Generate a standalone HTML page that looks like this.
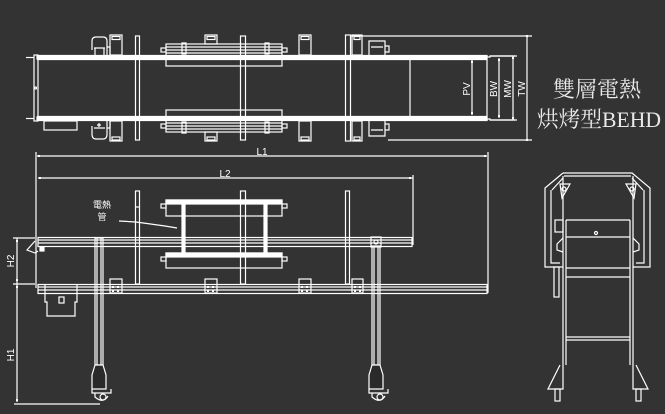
<!DOCTYPE html>
<html><head><meta charset="utf-8"><style>
html,body{margin:0;padding:0;background:#333333;}
svg{display:block}
</style></head><body>
<svg width="665" height="414" viewBox="0 0 665 414" xmlns="http://www.w3.org/2000/svg">
<rect width="665" height="414" fill="#333333"/>
<g stroke="#fff" stroke-width="1.2" fill="none">
<!-- ===== TOP VIEW ===== -->
<rect x="37" y="55.5" width="450" height="3.5" fill="#fff"/>
<rect x="37" y="117" width="450" height="3.5" fill="#fff"/>
<line x1="37" y1="59.5" x2="487" y2="59.5"/>
<line x1="37" y1="116.5" x2="487" y2="116.5"/>
<rect x="34" y="55" width="4" height="66"/>
<line x1="26" y1="57.5" x2="34" y2="57.5"/>
<line x1="26" y1="118.5" x2="34" y2="118.5"/>
<circle cx="35.5" cy="88" r="1"/>
<rect x="44" y="121" width="33" height="9"/>
<path d="M487 55.5 L487 121 M487 57 L490 57 L490 56 L515 56 M487 119 L490 119 L490 120 L515 120"/>
<path d="M92 50 L92 41 Q92 37 96 37 L103 37 Q107 37 107 41 L107 55 M94 48 L105 48 M95 48 L95 55 M104 48 L104 55 M107 47 L110 47 L110 55"/>
<path d="M92 126 L92 134 Q92 139 96 139 L103 139 Q107 139 107 134 L107 121 M94 128 L105 128 M99 123 L99 127 M97 125 L101 125 M107 128 L110 128 L110 121"/>
<rect x="110" y="35" width="12" height="20"/><rect x="112" y="36.5" width="8" height="3"/>
<rect x="110" y="121" width="12" height="20"/><rect x="112" y="137" width="8" height="3"/>
<rect x="205" y="35" width="12" height="9"/><rect x="207" y="36.5" width="8" height="3"/>
<rect x="205" y="132" width="12" height="9"/><rect x="207" y="137" width="8" height="3"/>
<rect x="299" y="35" width="12" height="20"/><rect x="301" y="36.5" width="8" height="3"/>
<rect x="299" y="121" width="12" height="20"/><rect x="301" y="137" width="8" height="3"/>
<rect x="352" y="35" width="10" height="20"/><rect x="354" y="36.5" width="6" height="3"/>
<rect x="352" y="121" width="10" height="20"/><rect x="354" y="137" width="6" height="3"/>
<path d="M369 55 L369 41 L385 41 L385 55 M371 47 L383 47 M385 46 L389 46 L389 52 L385 52"/>
<path d="M369 121 L369 136 L385 136 L385 121 M371 130 L383 130 M385 124 L389 124 L389 130 L385 130"/>
<rect x="135.5" y="36" width="4" height="104"/>
<rect x="240.5" y="36" width="5" height="104"/>
<rect x="345.5" y="35" width="5" height="106"/>
<rect x="166" y="44" width="116" height="22"/>
<line x1="166" y1="47" x2="282" y2="47"/>
<line x1="166" y1="50" x2="282" y2="50"/>
<line x1="166" y1="53" x2="282" y2="53"/>
<rect x="161" y="48" width="5" height="4"/><rect x="282" y="48" width="5" height="4"/>
<rect x="182" y="43" width="4" height="11"/><rect x="265" y="43" width="4" height="11"/>
<rect x="166" y="110" width="116" height="22"/>
<line x1="166" y1="123" x2="282" y2="123"/>
<line x1="166" y1="126" x2="282" y2="126"/>
<line x1="166" y1="129" x2="282" y2="129"/>
<rect x="161" y="124" width="5" height="4"/><rect x="282" y="124" width="5" height="4"/>
<rect x="182" y="122" width="4" height="11"/><rect x="265" y="122" width="4" height="11"/>
<line x1="160" y1="57.5" x2="166" y2="57.5"/><line x1="282" y1="57.5" x2="288" y2="57.5"/>
<line x1="410" y1="60" x2="410" y2="116"/>
<line x1="350" y1="36" x2="532" y2="36"/>
<line x1="388" y1="140" x2="532" y2="140"/>
<line x1="527" y1="36" x2="527" y2="140"/>
<line x1="513" y1="56" x2="513" y2="120"/>
<line x1="499" y1="58" x2="499" y2="118"/>
<line x1="472" y1="60" x2="472" y2="115"/>
<line x1="490" y1="56" x2="517" y2="56"/>
<line x1="490" y1="120" x2="517" y2="120"/>
</g>
<g fill="#fff">
<rect x="526" y="35" width="2" height="2"/><rect x="526" y="139" width="2" height="2"/>
<rect x="512" y="57" width="2" height="2"/><rect x="512" y="117" width="2" height="2"/>
<rect x="498" y="59" width="2" height="2"/><rect x="498" y="115" width="2" height="2"/>
<rect x="471" y="61" width="2" height="2"/><rect x="471" y="112" width="2" height="2"/>
</g>
<g fill="#fff" font-family="Liberation Sans, sans-serif" font-size="10">
<text transform="translate(470,89) rotate(-90)" text-anchor="middle">PV</text>
<text transform="translate(497,89) rotate(-90)" text-anchor="middle">BW</text>
<text transform="translate(511,89) rotate(-90)" text-anchor="middle">MW</text>
<text transform="translate(525,89) rotate(-90)" text-anchor="middle">TW</text>
</g>
<g fill="#e8e8e8" font-family="Liberation Serif, 'Noto Serif CJK TC', serif" font-size="22">
<text x="553" y="97">雙層電熱</text>
<text x="537" y="127" textLength="124" lengthAdjust="spacingAndGlyphs">烘烤型BEHD</text>
</g>

<!-- ===== SIDE VIEW ===== -->
<g stroke="#fff" stroke-width="1.2" fill="none">
<line x1="36" y1="152" x2="36" y2="288"/>
<line x1="488" y1="152" x2="488" y2="293"/>
<line x1="37" y1="156" x2="487" y2="156"/>
<line x1="413" y1="175" x2="413" y2="245"/>
<line x1="38" y1="178" x2="413" y2="178"/>
<rect x="38" y="237.5" width="374" height="9"/>
<line x1="38" y1="240" x2="412" y2="240"/>
<line x1="38" y1="243" x2="412" y2="243"/>
<rect x="38" y="284.5" width="449" height="9"/>
<line x1="38" y1="287" x2="487" y2="287"/>
<line x1="38" y1="290" x2="487" y2="290"/>
<rect x="135.5" y="191" width="4" height="93"/>
<rect x="240.5" y="191" width="5" height="93"/>
<rect x="345.5" y="191" width="4" height="93"/>
<line x1="135" y1="207" x2="140" y2="207"/>
<rect x="166" y="200" width="116" height="16"/>
<rect x="166" y="200" width="116" height="4" fill="#fff"/>
<rect x="161" y="204" width="5" height="4"/><rect x="282" y="204" width="5" height="4"/>
<rect x="166" y="253" width="116" height="15"/>
<rect x="166" y="253" width="116" height="4" fill="#fff"/>
<rect x="161" y="257" width="5" height="4"/><rect x="282" y="257" width="5" height="4"/>
<rect x="182" y="201" width="3" height="55" fill="#fff"/>
<rect x="264" y="201" width="3" height="55" fill="#fff"/>
<path d="M119 221 L136 222 L165 226 L177 228"/>
<path d="M35 241 L27 250 L35 253 L38 251"/>
<rect x="40" y="247" width="4" height="4" fill="#fff"/>
<path d="M45 285 L45 302 L47 302 L47 316 L75 316 L75 302 L77 302 L77 285"/>
<rect x="59" y="297" width="5" height="6"/>
<rect x="95" y="238" width="8" height="127"/>
<line x1="97" y1="238" x2="97" y2="365"/><line x1="101" y1="238" x2="101" y2="365"/>
<path d="M95 365 L92 375 L92 389 L106 389 L106 375 L103 365 Z" fill="#2a2a2a"/>
<path d="M92 389 L92 393 L111 393 L111 389 M95 393 L95 397 Q103 404 108 396"/>
<circle cx="103" cy="397" r="3"/>
<rect x="372" y="246" width="8" height="119"/>
<line x1="374" y1="246" x2="374" y2="365"/><line x1="378" y1="246" x2="378" y2="365"/>
<rect x="371" y="237" width="10" height="10"/>
<circle cx="376" cy="242" r="2"/>
<path d="M372 365 L369 375 L369 389 L383 389 L383 375 L380 365 Z" fill="#2a2a2a"/>
<path d="M369 389 L369 393 L388 393 L388 389 M372 393 L372 397 Q380 404 385 396"/>
<circle cx="380" cy="397" r="3"/>
<rect x="110" y="279" width="12" height="14"/>
<rect x="205" y="279" width="12" height="14"/>
<rect x="299" y="279" width="12" height="14"/>
<rect x="352" y="279" width="11" height="14"/>
<line x1="17" y1="238" x2="17" y2="402"/>
<line x1="13" y1="238" x2="35" y2="238"/>
<line x1="13" y1="284" x2="35" y2="284"/>
<line x1="14" y1="404" x2="100" y2="404"/>
</g>
<g fill="#fff">
<rect x="38" y="155" width="2" height="2"/><rect x="484" y="155" width="2" height="2"/>
<rect x="39" y="177" width="2" height="2"/><rect x="409" y="177" width="2" height="2"/>
<rect x="16" y="240" width="2" height="2"/><rect x="16" y="279" width="2" height="2"/>
<rect x="16" y="286" width="2" height="2"/><rect x="16" y="399" width="2" height="2"/>
<rect x="112" y="286" width="2" height="2"/><rect x="117" y="286" width="2" height="2"/><rect x="112" y="290" width="2" height="2"/><rect x="117" y="290" width="2" height="2"/>
<rect x="207" y="286" width="2" height="2"/><rect x="212" y="286" width="2" height="2"/><rect x="207" y="290" width="2" height="2"/><rect x="212" y="290" width="2" height="2"/>
<rect x="301" y="286" width="2" height="2"/><rect x="306" y="286" width="2" height="2"/><rect x="301" y="290" width="2" height="2"/><rect x="306" y="290" width="2" height="2"/>
<rect x="354" y="286" width="2" height="2"/><rect x="359" y="286" width="2" height="2"/><rect x="354" y="290" width="2" height="2"/><rect x="359" y="290" width="2" height="2"/>
</g>
<g fill="#fff" font-family="Liberation Sans, sans-serif" font-size="10">
<text x="262" y="155" text-anchor="middle">L1</text>
<text x="225" y="177" text-anchor="middle">L2</text>
<text transform="translate(14,261) rotate(-90)" text-anchor="middle">H2</text>
<text transform="translate(14,355) rotate(-90)" text-anchor="middle">H1</text>
<text x="102" y="208" text-anchor="middle" font-family="Liberation Sans, 'Noto Sans CJK TC', sans-serif" font-size="9">電熱</text>
<text x="102" y="220" text-anchor="middle" font-family="Liberation Sans, 'Noto Sans CJK TC', sans-serif" font-size="9">管</text>
</g>

<!-- ===== END VIEW ===== -->
<g stroke="#fff" stroke-width="1.2" fill="none">
<path d="M563 173 L632 173 L650 188 L650 267 L633 267"/>
<path d="M563 173 L545 188 L545 267 L563 267"/>
<path d="M564 176 L631 176 M552 190 L563 178 M643 190 L632 178"/>
<path d="M551 190 L551 263 L560 263 M644 190 L644 263 L636 263"/>
<path d="M563 220 L563 365 M566 220 L566 365 M630 220 L630 365 M633 220 L633 365"/>
<path d="M563 176 L563 220 M633 176 L633 220"/>
<line x1="566" y1="220" x2="630" y2="220"/>
<line x1="566" y1="237" x2="630" y2="237"/>
<line x1="566" y1="268" x2="630" y2="268"/>
<line x1="566" y1="277" x2="630" y2="277"/>
<line x1="566" y1="337" x2="630" y2="337"/>
<line x1="566" y1="340" x2="630" y2="340"/>
<rect x="555" y="220" width="8" height="12"/>
<rect x="554" y="267" width="5" height="30"/>
<path d="M560 184 L570 184 L562 198 Z"/><circle cx="564" cy="189" r="2"/>
<path d="M636 184 L626 184 L634 198 Z"/><circle cx="632" cy="189" r="2"/>
<path d="M563 238 L557 244 L557 250 L563 252"/>
<path d="M633 238 L639 244 L639 250 L633 252"/>
<circle cx="596" cy="233" r="1.5"/>
<path d="M560 365 L548 389 L563 389 L563 365"/>
<path d="M636 365 L648 389 L633 389 L633 365"/>
<rect x="555" y="389" width="5" height="12"/><rect x="636" y="389" width="5" height="12"/>
</g>
</svg>
</body></html>
